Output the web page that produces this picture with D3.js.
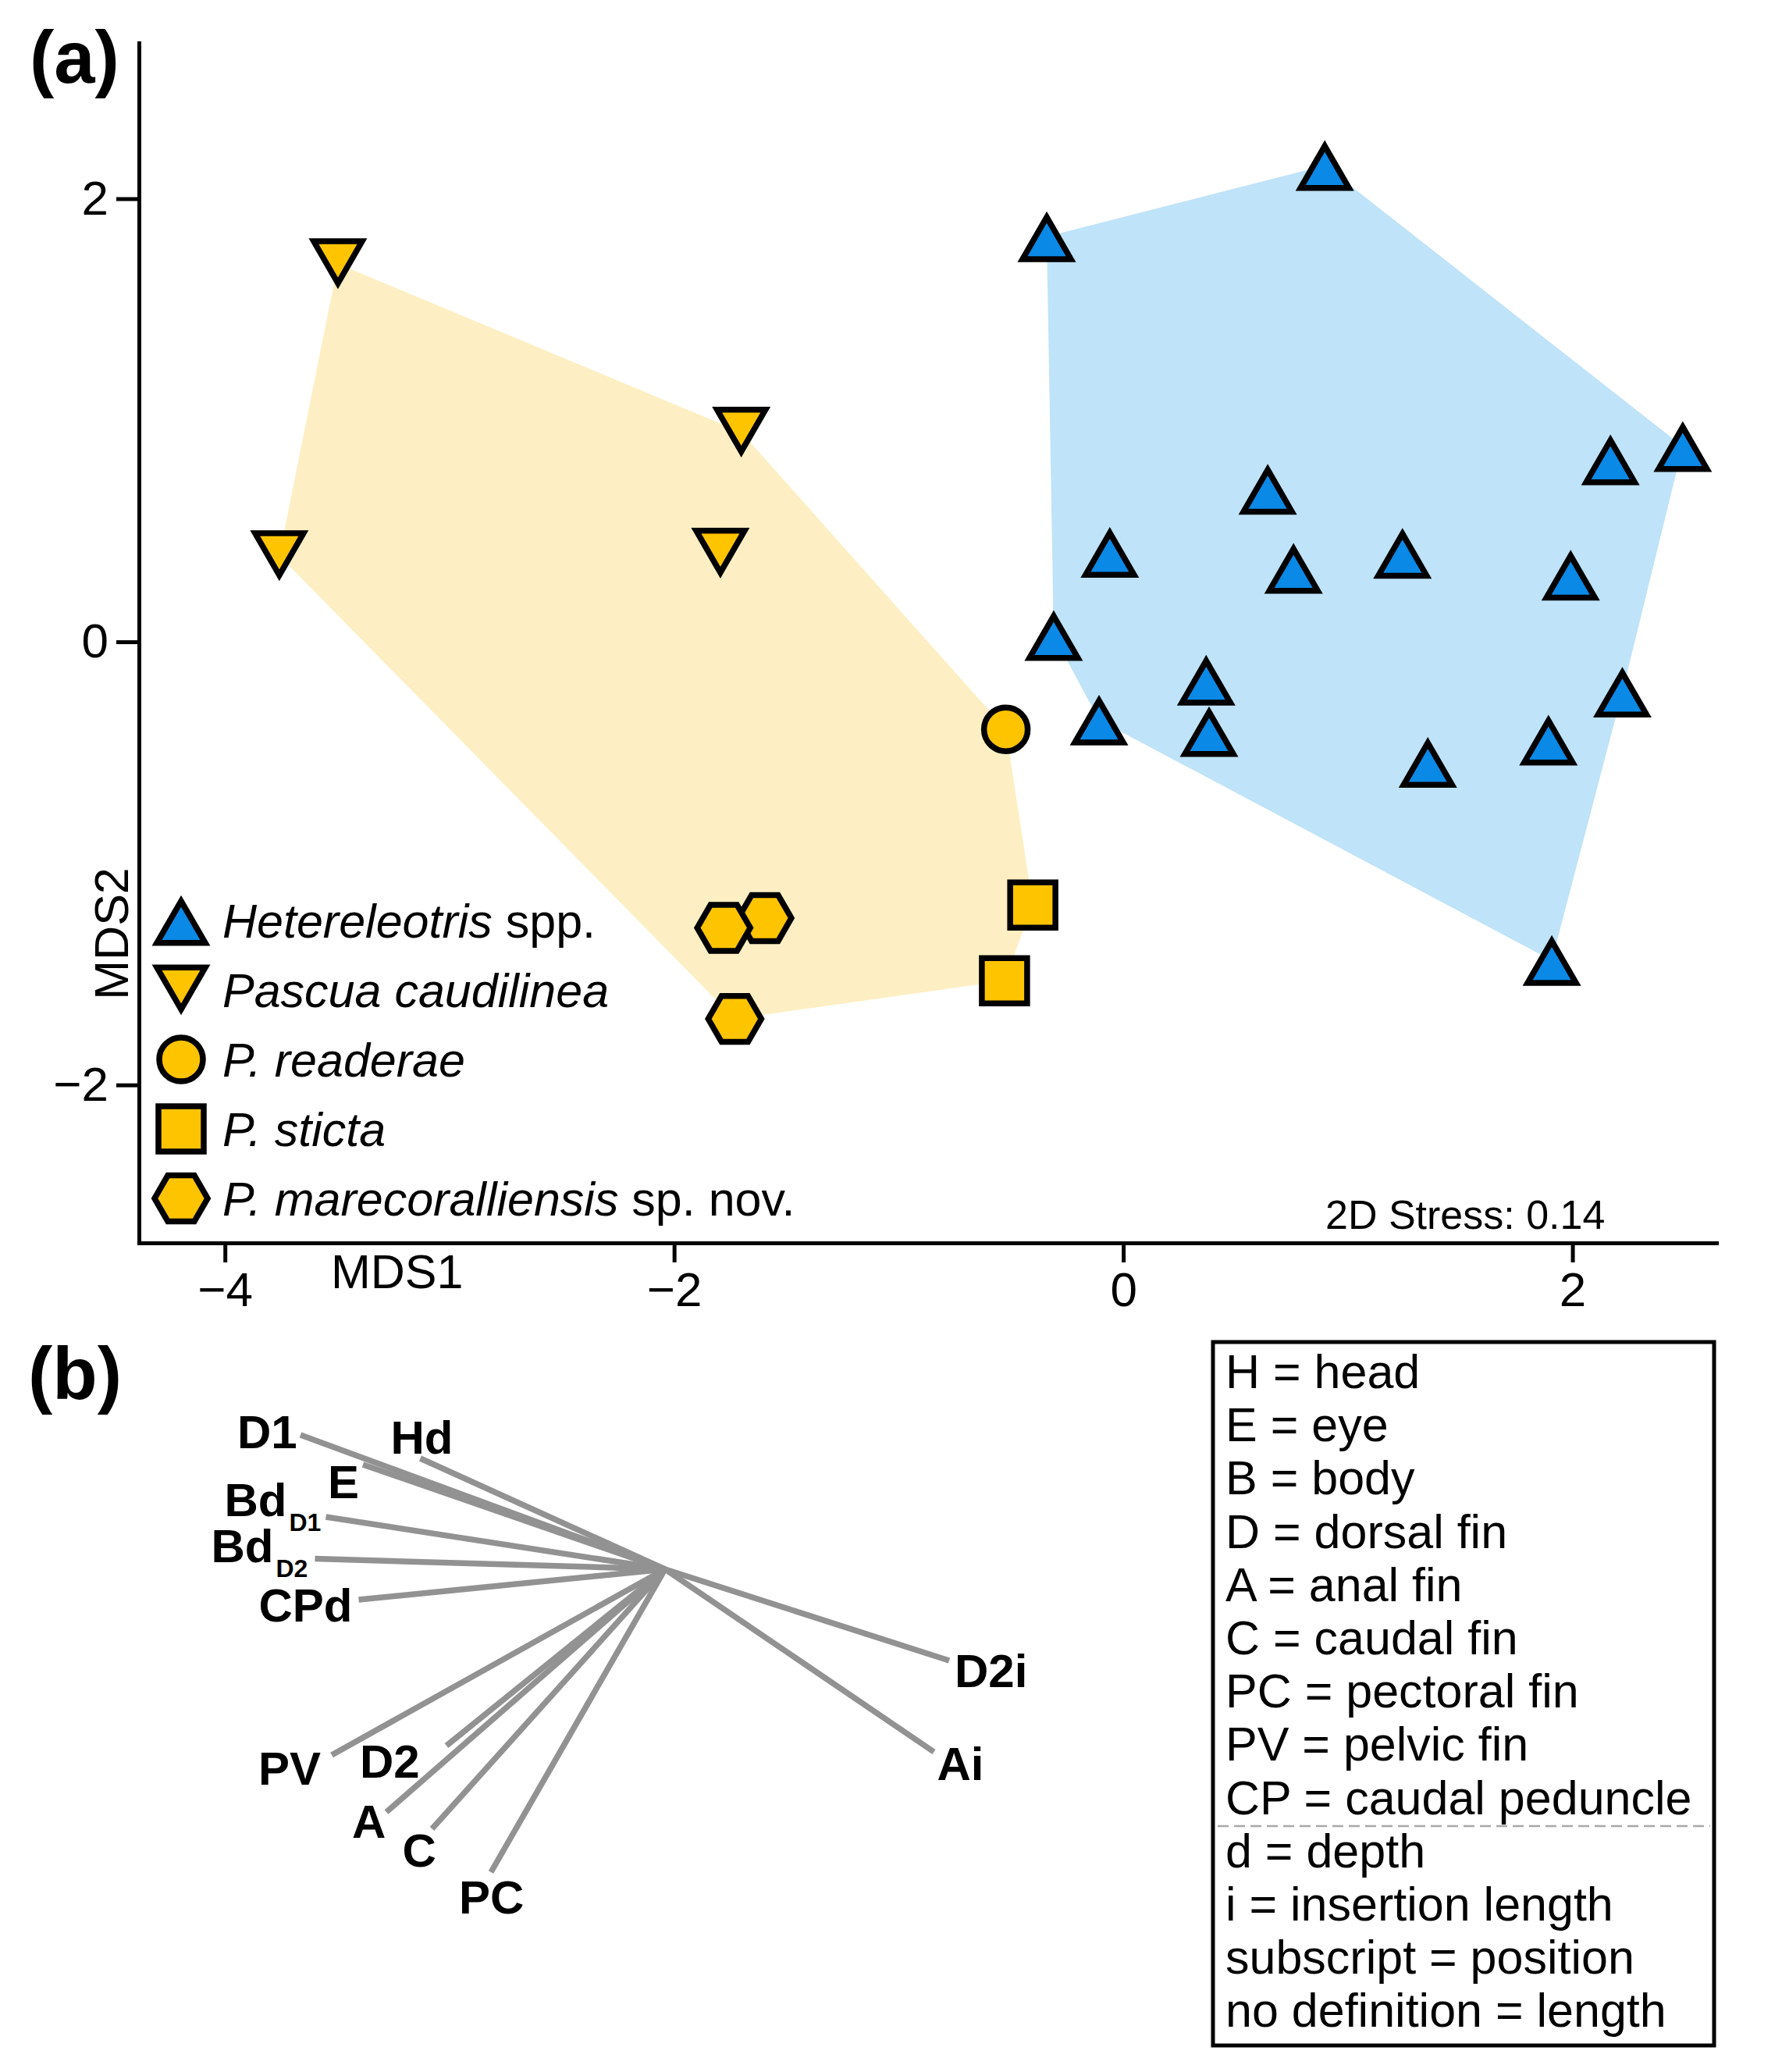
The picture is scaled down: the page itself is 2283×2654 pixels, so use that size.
<!DOCTYPE html>
<html>
<head>
<meta charset="utf-8">
<script src="https://cdn.jsdelivr.net/npm/d3@7"></script>
<style>
  body { margin: 0; background: #ffffff; }
  text { font-family: "Liberation Sans", Arial, Helvetica, sans-serif; }
</style>
</head>
<body>
<svg id="chart" width="2283" height="2654" xmlns="http://www.w3.org/2000/svg"></svg>
<script>
// ================= DATA =================
// Panel (a): nMDS ordination coordinates (MDS1, MDS2)
const heteroMDS1 = [0.897, -0.341, 2.491, 2.169, 0.643, -0.060, 0.758, 1.243, 1.992, -0.310, 0.369, 2.222, -0.108, 0.382, 1.893, 1.356, 1.908];
const heteroMDS2 = [2.150, 1.829, 0.882, 0.822, 0.689, 0.404, 0.332, 0.400, 0.301, 0.029, -0.173, -0.227, -0.353, -0.405, -0.443, -0.544, -1.438];

const caudilineaMDS1 = [-3.497, -1.701, -3.758, -1.794];
const caudilineaMDS2 = [1.706, 0.946, 0.388, 0.400];

const readeraeMDS1 = [-0.523];
const readeraeMDS2 = [-0.395];

const stictaMDS1 = [-0.403, -0.529];
const stictaMDS2 = [-1.188, -1.530];

const marecoMDS1 = [-1.596, -1.779, -1.730];
const marecoMDS2 = [-1.247, -1.291, -1.702];

const xTickValues = [-4, -2, 0, 2];
const yTickValues = [-2, 0, 2];
const xAxisTitle = "MDS1";
const yAxisTitle = "MDS2";
const stressLabel = "2D Stress: 0.14";

const legendItalic = ["Hetereleotris", "Pascua caudilinea", "P. readerae", "P. sticta", "P. marecoralliensis"];
const legendNormal = [" spp.", "", "", "", " sp. nov."];
const legendShapes = ["triUp", "triDown", "circle", "square", "hexagon"];

// Panel (b): vector (correlation) coordinates of morphometric variables
const vectorNames = ["D1", "Hd", "E", "Bd", "Bd", "CPd", "PV", "D2", "A", "C", "PC", "D2i", "Ai"];
const vectorSubs  = ["", "", "", "D1", "D2", "", "", "", "", "", "", "", ""];
const vectorX = [-0.934, -0.627, -0.774, -0.869, -0.897, -0.785, -0.854, -0.560, -0.714, -0.597, -0.446, 0.728, 0.689];
const vectorY = [0.344, 0.284, 0.268, 0.134, 0.027, -0.078, -0.476, -0.452, -0.622, -0.665, -0.776, -0.234, -0.468];

const keyLinesTop = ["H = head", "E = eye", "B = body", "D = dorsal fin", "A = anal fin", "C = caudal fin",
                     "PC = pectoral fin", "PV = pelvic fin", "CP = caudal peduncle"];
const keyLinesBottom = ["d = depth", "i = insertion length", "subscript = position", "no definition = length"];

// ================= STYLE / LAYOUT =================
const FONT = '"Liberation Sans", Arial, Helvetica, sans-serif';
const BLUE = "#0a89e6", BLUE_HULL = "#bfe3f8";
const GOLD = "#ffc400", GOLD_HULL = "#fdefc3";
const MARK_W = 7.5;
const VEC_COLOR = "#929292";

// label offsets (px) from the vector tip: [dx, dy] to text start / baseline
const vectorLabelOffset = [[-81, 17], [-38, -6], [-45, 43], [-130, -1], [-133, 4], [-128, 28],
                           [-94, 38], [-111, 41], [-44, 33], [-38, 48], [-41, 53], [7, 34], [4, 36]];

const svg = d3.select("#chart");

// ---------- scales for panel (a) ----------
const x = d3.scaleLinear().domain([-4.383, 2.641]).range([178, 2199]);
const y = d3.scaleLinear().domain([-2.713, 2.703]).range([1592, 55]);

// ---------- marker shapes (centred on bbox centre) ----------
function markerPath(shape) {
  const p = d3.path();
  if (shape === "triUp") {
    p.moveTo(0, -24.85); p.lineTo(31, 28.85); p.lineTo(-31, 28.85); p.closePath();
  } else if (shape === "triDown") {
    p.moveTo(0, 24.85); p.lineTo(31, -28.85); p.lineTo(-31, -28.85); p.closePath();
  } else if (shape === "circle") {
    p.moveTo(28, 0); p.arc(0, 0, 28, 0, 2 * Math.PI); p.closePath();
  } else if (shape === "square") {
    p.rect(-29, -29, 58, 58);
  } else if (shape === "hexagon") {
    const R = 34;
    for (let i = 0; i < 6; i++) {
      const a = i * Math.PI / 3;
      const px = R * Math.cos(a), py = R * Math.sin(a);
      if (i === 0) p.moveTo(px, py); else p.lineTo(px, py);
    }
    p.closePath();
  }
  return p.toString();
}

function zipPts(xs, ys) { return xs.map((v, i) => [v, ys[i]]); }

const heteroPts = zipPts(heteroMDS1, heteroMDS2);
const caudPts = zipPts(caudilineaMDS1, caudilineaMDS2);
const readPts = zipPts(readeraeMDS1, readeraeMDS2);
const stictPts = zipPts(stictaMDS1, stictaMDS2);
const marePts = zipPts(marecoMDS1, marecoMDS2);

// ---------- hulls ----------
const hullLine = pts => {
  const h = d3.polygonHull(pts.map(d => [x(d[0]), y(d[1])]));
  return "M" + h.join("L") + "Z";
};
const gHull = svg.append("g");
gHull.append("path").attr("d", hullLine(caudPts.concat(readPts, stictPts, marePts)))
  .attr("fill", GOLD_HULL).attr("stroke", "none");
gHull.append("path").attr("d", hullLine(heteroPts))
  .attr("fill", BLUE_HULL).attr("stroke", "none");

// ---------- axes ----------
const gx = svg.append("g").attr("transform", "translate(0,1592)")
  .call(d3.axisBottom(x).tickValues(xTickValues).tickSize(25).tickSizeOuter(0).tickPadding(12)
        .tickFormat(d3.format("d")));
const gy = svg.append("g").attr("transform", "translate(178,0)")
  .call(d3.axisLeft(y).tickValues(yTickValues).tickSize(29).tickSizeOuter(0).tickPadding(10)
        .tickFormat(d3.format("d")));
[gx, gy].forEach(g => {
  g.select(".domain").attr("stroke", "#000").attr("stroke-width", 5).attr("stroke-linecap", "square");
  g.selectAll(".tick line").attr("stroke", "#000").attr("stroke-width", 5);
  g.selectAll(".tick text").attr("fill", "#000").style("font-family", FONT).style("font-size", "62px");
});

// ---------- points ----------
const gPts = svg.append("g");
function drawPts(pts, shape, fill) {
  gPts.selectAll(null).data(pts).enter().append("path")
    .attr("d", markerPath(shape))
    .attr("transform", d => `translate(${x(d[0])},${y(d[1])})`)
    .attr("fill", fill).attr("stroke", "#000").attr("stroke-width", MARK_W)
    .attr("stroke-linejoin", "miter");
}
drawPts(heteroPts, "triUp", BLUE);
drawPts(caudPts, "triDown", GOLD);
drawPts(readPts, "circle", GOLD);
drawPts(stictPts, "square", GOLD);
drawPts(marePts, "hexagon", GOLD);

// ---------- axis titles, stress ----------
svg.append("text").attr("x", 424).attr("y", 1650).attr("font-size", 61).attr("fill", "#000").text(xAxisTitle);
svg.append("text").attr("transform", "translate(164,1196) rotate(-90)").attr("text-anchor", "middle")
  .attr("font-size", 61).attr("fill", "#000").text(yAxisTitle);
svg.append("text").attr("x", 1698).attr("y", 1574).attr("font-size", 52).attr("fill", "#000").text(stressLabel);

// ---------- legend ----------
const legendFills = [BLUE, GOLD, GOLD, GOLD, GOLD];
const gLeg = svg.append("g");
legendItalic.forEach((lab, i) => {
  const cy = 1179 + i * 89;
  gLeg.append("path").attr("d", markerPath(legendShapes[i]))
    .attr("transform", `translate(232,${cy})`)
    .attr("fill", legendFills[i]).attr("stroke", "#000").attr("stroke-width", MARK_W);
  const t = gLeg.append("text").attr("x", 285).attr("y", cy + 22).attr("font-size", 61).attr("fill", "#000");
  t.append("tspan").attr("font-style", "italic").text(lab);
  if (legendNormal[i]) t.append("tspan").text(legendNormal[i]);
});

// ---------- panel labels ----------
svg.append("text").attr("x", 38).attr("y", 106).attr("font-size", 94).attr("font-weight", "bold").text("(a)");
svg.append("text").attr("x", 36).attr("y", 1792).attr("font-size", 94).attr("font-weight", "bold").text("(b)");

// ---------- panel (b): vectors ----------
const bx = d3.scaleLinear().domain([0, 1]).range([852, 1352]);
const by = d3.scaleLinear().domain([0, 1]).range([2010, 1510]);
const gVec = svg.append("g");
vectorNames.forEach((nm, i) => {
  gVec.append("line")
    .attr("x1", bx(0)).attr("y1", by(0))
    .attr("x2", bx(vectorX[i])).attr("y2", by(vectorY[i]))
    .attr("stroke", VEC_COLOR).attr("stroke-width", 7.5).attr("stroke-linecap", "butt");
});
vectorNames.forEach((nm, i) => {
  const tx = bx(vectorX[i]) + vectorLabelOffset[i][0];
  const ty = by(vectorY[i]) + vectorLabelOffset[i][1];
  const t = gVec.append("text").attr("x", tx).attr("y", ty)
    .attr("font-size", 60).attr("font-weight", "bold").attr("fill", "#000");
  t.append("tspan").text(nm);
  if (vectorSubs[i]) {
    t.append("tspan").attr("font-size", 32).attr("dx", 3).attr("dy", 19).text(vectorSubs[i]);
  }
});

// ---------- panel (b): key box ----------
const gKey = svg.append("g");
gKey.append("rect").attr("x", 1554).attr("y", 1719).attr("width", 642).attr("height", 901)
  .attr("fill", "none").attr("stroke", "#000").attr("stroke-width", 5);
const allKey = keyLinesTop.concat(keyLinesBottom);
allKey.forEach((ln, i) => {
  gKey.append("text").attr("x", 1570).attr("y", 1778 + i * 68.2)
    .attr("font-size", 61).attr("fill", "#000").text(ln);
});
gKey.append("line").attr("x1", 1560).attr("x2", 2191).attr("y1", 2339).attr("y2", 2339)
  .attr("stroke", "#a8a8a8").attr("stroke-width", 2.5).attr("stroke-dasharray", "14,7");
</script>
</body>
</html>
